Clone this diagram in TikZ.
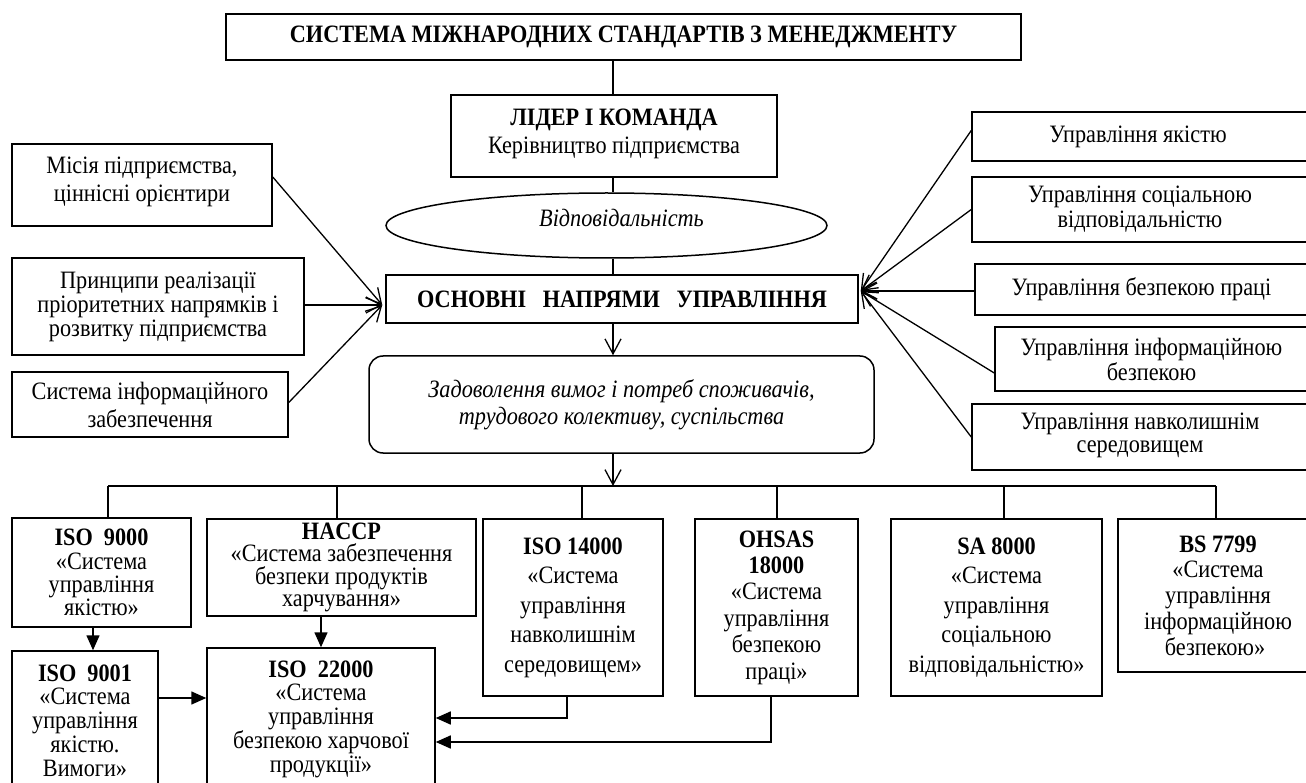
\documentclass[tikz,border=0pt]{standalone}
\usepackage{fontspec}
\setmainfont{Liberation Serif}[FakeStretch=0.89]
\usetikzlibrary{arrows.meta,shapes.geometric,calc}
\newcommand\myfs[2]{\fontsize{#1}{#2}\selectfont}
\begin{document}
\begin{tikzpicture}[x=1pt,y=-1pt,
  box/.style={draw, line width=1.5pt, inner sep=0pt, align=center},
  conn/.style={line width=1.3pt},
  vee/.style={conn,-{Straight Barb[length=15pt,width=16pt]}},
  tri/.style={line width=1.6pt,-{Triangle[length=15pt,width=13pt]}}]
\useasboundingbox (0,0) rectangle (1306,783);
\fill[white] (0,0) rectangle (1306,783);

% top chain
\node[box, minimum width=795pt, minimum height=46pt, font={\myfs{25}{25}\bfseries}] (title) at (623.5,37)
  {СИСТЕМА МІЖНАРОДНИХ СТАНДАРТІВ З МЕНЕДЖМЕНТУ};
\node[box, minimum width=326pt, minimum height=82pt, font={\myfs{25}{28}}] (lider) at (614,136)
  {\textbf{ЛІДЕР І КОМАНДА}\\Керівництво підприємства\\[-18pt]\mbox{}};
\node[draw, ellipse, line width=1.5pt, inner sep=0pt, minimum width=441pt, minimum height=65pt,
  text depth=15pt, font={\myfs{25}{25}\itshape}] (resp) at (606.5,225.5) {\hspace*{30pt}Відповідальність};
\node[box, minimum width=472pt, minimum height=48pt, font={\myfs{25}{25}\bfseries}] (osn) at (622,299)
  {ОСНОВНІ\ \ \ НАПРЯМИ\ \ \ УПРАВЛІННЯ};
\node[box, rounded corners=14pt, minimum width=505pt, minimum height=97pt, font={\myfs{25}{27}\itshape}] (zad) at (621.5,404.5)
  {Задоволення вимог і потреб споживачів,\\трудового колективу, суспільства};

\coordinate (ax) at (613,0);
\draw[conn] (title.south -| ax) -- (lider.north -| ax);
\draw[conn] (lider.south -| ax) -- (resp.north -| ax);
\draw[conn] (resp.south -| ax) -- (osn.north -| ax);
\draw[vee] (osn.south -| ax) -- (zad.north -| ax);

% left boxes
\node[box, minimum width=260pt, minimum height=82pt, font={\myfs{25}{28}}] (misia) at (142,185)
  {Місія підприємства,\\ціннісні орієнтири\\[-16pt]\mbox{}};
\node[box, minimum width=292pt, minimum height=97pt, font={\myfs{25}{24}}] (pryn) at (158,306.5)
  {Принципи реалізації\\пріоритетних напрямків і\\розвитку підприємства};
\node[box, minimum width=276pt, minimum height=65pt, font={\myfs{25}{28}}] (sysinf) at (150,404.5)
  {Система інформаційного\\забезпечення};

\coordinate (lt) at ($(osn.west)+(-3,6)$);
\draw[vee] ($(misia.east)+(0,-8)$) -- (lt);
\draw[vee] (pryn.east |- lt) -- (lt);
\draw[vee] ($(sysinf.east)+(0,-2)$) -- (lt);

% right boxes
\node[box, minimum width=336pt, minimum height=49pt, font={\myfs{25}{25}}] (r1) at (1140,136.5)
  {\hspace*{-4pt}Управління якістю};
\node[box, minimum width=336pt, minimum height=65pt, font={\myfs{25}{25}}] (r2) at (1140,209.5)
  {Управління соціальною\\відповідальністю};
\node[box, minimum width=333pt, minimum height=51pt, font={\myfs{25}{25}}] (r3) at (1141.5,289.5)
  {Управління безпекою праці};
\node[box, minimum width=313pt, minimum height=64pt, font={\myfs{25}{25}}] (r4) at (1151.5,359)
  {Управління інформаційною\\безпекою};
\node[box, minimum width=336pt, minimum height=66pt, font={\myfs{25}{23}}] (r5) at (1140,437)
  {Управління навколишнім\\середовищем\\[-15pt]\mbox{}};

\coordinate (rt) at ($(osn.east)+(2,-8)$);
\draw[vee] ($(r1.west)+(0,-6)$) -- (rt);
\draw[vee] (r2.west) -- (rt);
\draw[vee] (r3.west |- rt) -- (rt);
\draw[vee] ($(r4.west)+(0,14)$) -- (rt);
\draw[vee] (r5.west) -- (rt);

% bottom row
\node[box, minimum width=179pt, minimum height=109pt, font={\myfs{25}{23.3}}] (iso9000) at (101.5,572.5)
  {\textbf{ISO\ \ 9000}\\«Система\\управління\\якістю»};
\node[box, minimum width=269pt, minimum height=97pt, font={\myfs{25}{22.5}}] (haccp) at (341.5,567.5)
  {\textbf{HACCP}\\«Система забезпечення\\безпеки продуктів\\харчування»};
\node[box, minimum width=180pt, minimum height=177pt, font={\myfs{25}{29.5}}] (iso14000) at (573,607.5)
  {\textbf{ISO 14000}\\«Система\\управління\\навколишнім\\середовищем»};
\node[box, minimum width=163pt, minimum height=177pt, font={\myfs{25}{26.4}}] (ohsas) at (776.5,607.5)
  {\textbf{OHSAS}\\\textbf{18000}\\«Система\\управління\\безпекою\\праці»};
\node[box, minimum width=211pt, minimum height=177pt, font={\myfs{25}{29.5}}] (sa) at (996.5,607.5)
  {\textbf{SA 8000}\\«Система\\управління\\соціальною\\відповідальністю»};
\node[box, minimum width=200pt, minimum height=153pt, font={\myfs{25}{25.8}}] (bs) at (1218,595.5)
  {\textbf{BS 7799}\\«Система\\управління\\інформаційною\\безпекою»\hspace*{6pt}};
\node[box, minimum width=146pt, minimum height=139pt, font={\myfs{25}{23.8}}] (iso9001) at (85,720.5)
  {\textbf{ISO\ \ 9001}\\«Система\\управління\\якістю.\\Вимоги»};
\node[box, minimum width=228pt, minimum height=142pt, font={\myfs{25}{23.8}}] (iso22000) at (321,719)
  {\textbf{ISO\ \ 22000}\\«Система\\управління\\безпекою харчової\\продукції»};

% bus
\coordinate (busL) at (108,486);
\coordinate (busR) at (1216,486);
\draw[conn] (busL) -- (busR);
\draw[vee] (zad.south -| ax) -- (ax |- busL);
\draw[conn] (busL) -- (iso9000.north -| busL);
\draw[conn] (haccp.north -| 337,0) -- (337,486);
\draw[conn] (iso14000.north -| 582,0) -- (582,486);
\draw[conn] (ohsas.north -| 777,0) -- (777,486);
\draw[conn] (sa.north -| 1004,0) -- (1004,486);
\draw[conn] (busR) -- (bs.north -| busR);

% bottom arrows
\draw[tri] (iso9000.south -| 93,0) -- (iso9001.north -| 93,0);
\draw[tri] (haccp.south -| 321,0) -- (iso22000.north -| 321,0);
\draw[tri] (iso9001.east |- 0,698) -- (iso22000.west |- 0,698);
\draw[tri] (iso14000.south -| 567,0) |- (iso22000.east |- 0,718);
\draw[tri] (ohsas.south -| 771,0) |- (iso22000.east |- 0,742);
\end{tikzpicture}
\end{document}
